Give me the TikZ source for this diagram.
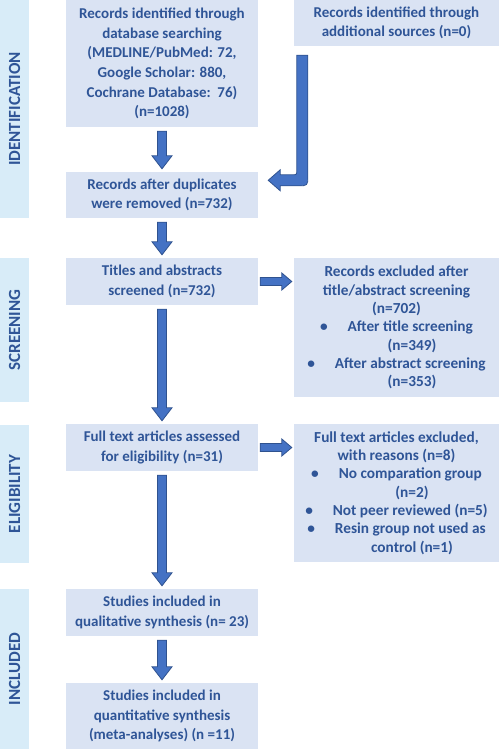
\documentclass[tikz,border=0pt]{standalone}
\usepackage{fontspec}
\setmainfont{Carlito}
\usetikzlibrary{calc}
\definecolor{bandc}{HTML}{D8ECF8}
\definecolor{boxc}{HTML}{DAE3F3}
\definecolor{txtc}{HTML}{2F5597}
\definecolor{arrf}{HTML}{4472C4}
\definecolor{arro}{HTML}{2F528F}
\newcommand\vblockarrow[2]{%
  \draw[blk] let \p1=(#1.south), \p2=(#2.north) in
    (\x1-4.5pt,\y1-4pt) -- (\x1+4.5pt,\y1-4pt) -- (\x1+4.5pt,\y2+16pt)
    -- (\x1+10pt,\y2+16pt) -- (\x1,\y2+3pt) -- (\x1-10pt,\y2+16pt)
    -- (\x1-4.5pt,\y2+16pt) -- cycle;}
\newcommand\hblockarrow[2]{%
  \draw[blk] let \p1=(#1.east), \p2=(#2.west) in
    (\x1+2pt,\y1+4pt) -- (\x2-12pt,\y1+4pt) -- (\x2-12pt,\y1+8.5pt)
    -- (\x2-2pt,\y1) -- (\x2-12pt,\y1-8.5pt) -- (\x2-12pt,\y1-4pt)
    -- (\x1+2pt,\y1-4pt) -- cycle;}
\newcommand\bul{\textbullet\hspace{20pt}}
\begin{document}
\begin{tikzpicture}[x=1pt,y=-1pt,
  box/.style={fill=boxc, text=txtc, font=\bfseries\fontsize{15}{19.6}\selectfont,
    align=center, inner sep=0pt, minimum width=192pt},
  rbox/.style={box, minimum width=205pt},
  lbox/.style={rbox, font=\bfseries\fontsize{15.3}{18.3}\selectfont},
  band/.style={fill=bandc, text=txtc, font=\bfseries\fontsize{17}{17}\selectfont,
    rotate=90, inner sep=0pt, minimum height=29pt},
  blk/.style={fill=arrf, draw=arro, line width=0.8pt, line join=miter},
]
\useasboundingbox (0,0) rectangle (499,749);

% phase bands
\node[band, minimum width=218pt] (bident) at (14.5,109) {IDENTIFICATION};
\node[band, minimum width=144pt] (bscreen) at (14.5,330) {SCREENING};
\node[band, minimum width=138pt] (belig) at (14.5,494) {ELIGIBILITY};
\node[band, minimum width=160pt] (bincl) at (14.5,669) {INCLUDED};

% boxes
\node[box, minimum height=127pt] (id1) at (162,63.5)
  {Records identified through\\ database searching\\ (MEDLINE/PubMed: 72,\\
   Google Scholar: 880,\\ Cochrane Database:\ \ 76)\\ (n=1028)};
\node[rbox, minimum height=46pt] (add) at (396.5,23)
  {Records identified through\\ additional sources (n=0)};
\node[box, minimum height=46pt] (dup) at (162,195)
  {Records after duplicates\\ were removed (n=732)};
\node[box, minimum height=47pt] (tit) at (162,281.5)
  {Titles and abstracts\\ screened (n=732)};
\node[lbox, minimum height=139pt] (exc1) at (396.5,327.5)
  {Records excluded after\\ title/abstract screening\\ (n=702)\\
   \bul After title screening\\ \hspace*{31pt}(n=349)\\
   \bul After abstract screening\\ \hspace*{31pt}(n=353)};
\node[box, minimum height=47pt] (full) at (162,447.5)
  {Full text articles assessed\\ for eligibility (n=31)};
\node[lbox, minimum height=138pt] (exc2) at (396.5,493)
  {Full text articles excluded,\\ with reasons (n=8)\\
   \bul No comparation group\\ \hspace*{31pt}(n=2)\\
   \bul Not peer reviewed (n=5)\\
   \bul Resin group not used as\\ \hspace*{31pt}control (n=1)};
\node[box, minimum height=47pt] (qual) at (162,612.5)
  {Studies included in\\ qualitative synthesis (n= 23)};
\node[box, minimum height=66pt] (quant) at (162,716)
  {Studies included in\\ quantitative synthesis\\ (meta-analyses) (n =11)};

% arrows
\vblockarrow{id1}{dup}
\vblockarrow{dup}{tit}
\vblockarrow{tit}{full}
\vblockarrow{full}{qual}
\vblockarrow{qual}{quant}
\hblockarrow{tit}{exc1}
\hblockarrow{full}{exc2}
% bent arrow from additional sources to duplicates box
\draw[blk] let \p1=(add.south west), \p2=(dup.north east) in
  (\x1+3pt,\y1-9pt) -- (\x1+14pt,\y1-9pt) -- (\x1+14pt,\y2-4pt)
  .. controls (\x1+14pt,\y2-14pt) .. (\x1+4pt,\y2-14pt)
  -- (\x2+22pt,\y2-14pt) -- (\x2+22pt,\y2-19pt) -- (\x2+10pt,\y2-8.5pt)
  -- (\x2+22pt,\y2+2pt) -- (\x2+22pt,\y2-3pt) -- (\x1-2pt,\y2-3pt)
  .. controls (\x1+3pt,\y2-3pt) .. (\x1+3pt,\y2+2pt) -- cycle;
\end{tikzpicture}
\end{document}
